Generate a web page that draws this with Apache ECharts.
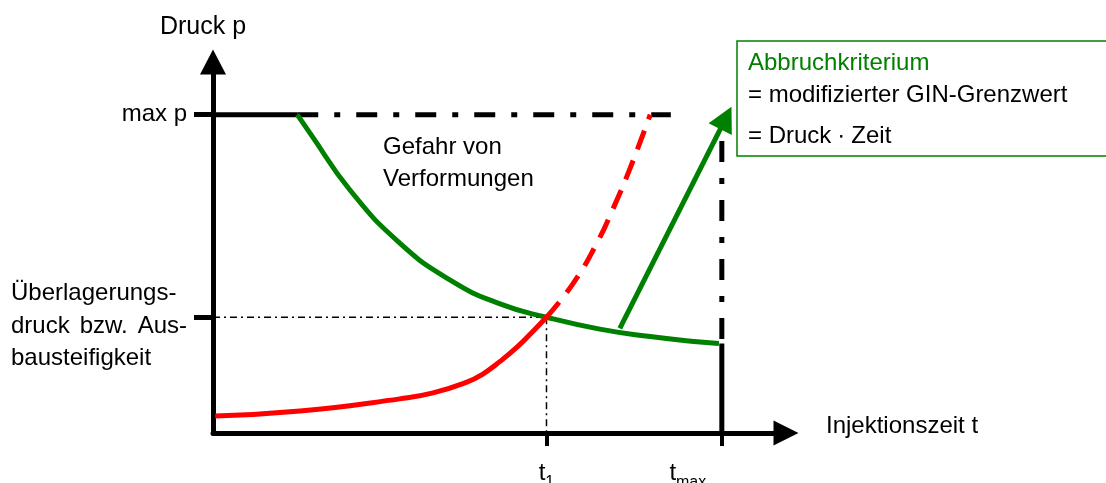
<!DOCTYPE html>
<html>
<head>
<meta charset="utf-8">
<script src="https://cdn.jsdelivr.net/npm/echarts@6/dist/echarts.min.js"></script>
<style>
  html, body { margin: 0; padding: 0; background: #fff; }
  #chart { width: 1106px; height: 483px; }
</style>
</head>
<body>
<div id="chart"></div>
<script>
// Achsen: beide 0..100 (schematisch)
const MAX_P = 85.8;      // max p
const UEB_P = 31.2;      // Überlagerungsdruck
const T1 = 58.2;
const TMAX = 88.8;
const MAXP_LINE_END = 79.9;   // Ende der Strich-Punkt-Linie bei max p
const TMAX_LINE_TOP = 78.7;   // oberes Ende der Linie bei t_max

// Grenzdruck-Kurve (grün)
const greenX = [14.7, 16.9, 23.9, 32.6, 41.4, 50.1, 58.2, 67.5, 76.3, 85.0, 88.3];
const greenY = [85.8, 80.9, 65.5, 51.2, 41.2, 34.8, 31.2, 28.0, 26.0, 24.5, 24.1];

// Injektionsdruck (rot), gemessen bis t1
const redX = [0.4, 15.2, 32.6, 38.4, 44.3, 47.1, 50.1, 53.1, 55.9, 58.2];
const redY = [4.6, 5.9, 9.2, 10.8, 13.7, 15.9, 19.3, 23.2, 27.5, 31.2];

// weiterer Verlauf (rot gestrichelt)
const redDashX = [58.2, 62.8, 67.0, 69.8, 72.8, 76.3];
const redDashY = [31.2, 40.2, 51.2, 60.4, 71.4, 85.8];

// Pfeil Abbruchkriterium
const arrowFrom = [71.0, 28.2];
const arrowTo = [89.5, 84.9];

const zip = (xs, ys) => xs.map((x, i) => [x, ys[i]]);

const FONT = 'Liberation Sans, Arial, sans-serif';
const GREEN = '#008000';
const RED = '#ff0000';
const DASH_DOT = [21, 16, 6, 16];
const THIN_DASH_DOT = [7, 4, 2, 4];

const chart = echarts.init(document.getElementById('chart'));

const straight = (data, width, type, z) => ({
  type: 'line',
  data: data,
  symbol: 'none',
  silent: true,
  z: z || 2,
  lineStyle: { color: '#000', width: width, type: type }
});

const option = {
  animation: false,
  textStyle: { fontFamily: FONT, color: '#000' },
  grid: { left: 213, right: 320, top: 62, bottom: 50, outerBoundsMode: 'none' },
  xAxis: {
    type: 'value',
    min: 0,
    max: 100,
    // leere zweite Zeile hebt den Namen etwas über die Achse
    name: '{n|Injektionszeit t}\n{e| }',
    nameLocation: 'end',
    nameGap: 40,
    nameMoveOverlap: false,
    nameTextStyle: {
      color: '#000',
      verticalAlign: 'middle',
      rich: {
        n: { fontSize: 24, lineHeight: 24 },
        e: { fontSize: 10, lineHeight: 13 }
      }
    },
    axisLine: {
      show: true,
      lineStyle: { color: '#000', width: 5 },
      symbol: ['none', 'triangle'],
      symbolSize: [25, 25]
    },
    axisTick: {
      show: true,
      customValues: [T1, TMAX],
      length: 13,
      lineStyle: { color: '#000', width: 4 }
    },
    axisLabel: {
      customValues: [T1, TMAX],
      margin: 28,
      color: '#000',
      formatter: v => v === T1 ? '{t|t}{s|1}' : '{t|t}{s|max}{g| }',
      rich: {
        t: { fontSize: 24, verticalAlign: 'top', lineHeight: 30 },
        s: { fontSize: 16, verticalAlign: 'bottom', lineHeight: 30 },
        g: { width: 68, fontSize: 16 }
      }
    },
    splitLine: { show: false }
  },
  yAxis: {
    type: 'value',
    min: 0,
    max: 100,
    name: 'Druck p',
    nameLocation: 'end',
    nameGap: 22,
    nameMoveOverlap: false,
    nameTextStyle: { fontSize: 25, color: '#000', padding: [0, 20, 0, 0] },
    axisLine: {
      show: true,
      lineStyle: { color: '#000', width: 5 },
      symbol: ['none', 'triangle'],
      symbolSize: [26, 25]
    },
    axisTick: {
      show: true,
      customValues: [UEB_P, MAX_P],
      length: 19,
      lineStyle: { color: '#000', width: 5 }
    },
    axisLabel: {
      customValues: [UEB_P, MAX_P],
      margin: 26,
      color: '#000',
      fontSize: 24,
      formatter: v => v === MAX_P
        ? 'max p'
        : '{s| }\n{a|Überlagerungs-}\n{l|druck}{m|bzw.}{r|Aus-}\n{a|bausteifigkeit}',
      rich: {
        s: { fontSize: 10, lineHeight: 18 },
        a: { fontSize: 24, lineHeight: 32.5, width: 176, align: 'left' },
        l: { fontSize: 24, lineHeight: 32.5, align: 'left' },
        m: { fontSize: 24, lineHeight: 32.5, align: 'center' },
        r: { fontSize: 24, lineHeight: 32.5, align: 'right' }
      }
    },
    splitLine: { show: false }
  },
  graphic: [
    {
      type: 'text',
      x: 383,
      y: 132,
      style: {
        text: 'Gefahr von\nVerformungen',
        font: '24px ' + FONT,
        lineHeight: 31.5,
        fill: '#000',
        align: 'left',
        verticalAlign: 'top'
      }
    },
    {
      type: 'rect',
      shape: { x: 737, y: 41, width: 420, height: 115 },
      style: { fill: '#fff', stroke: GREEN, lineWidth: 1.5 },
      z: 10
    },
    {
      type: 'text', x: 748, y: 63, z: 11,
      style: { text: 'Abbruchkriterium', font: '24px ' + FONT, fill: GREEN, verticalAlign: 'middle' }
    },
    {
      type: 'text', x: 748, y: 95.5, z: 11,
      style: { text: '= modifizierter GIN-Grenzwert', font: '24px ' + FONT, fill: '#000', verticalAlign: 'middle' }
    },
    {
      type: 'text', x: 748, y: 136.5, z: 11,
      style: { text: '= Druck \u2219 Zeit', font: '24px ' + FONT, fill: '#000', verticalAlign: 'middle' }
    }
  ],
  series: [
    // max p
    straight([[0, MAX_P], [greenX[0], MAX_P]], 5, 'solid'),
    straight([[greenX[0], MAX_P], [MAXP_LINE_END, MAX_P]], 5, DASH_DOT),
    // Überlagerungsdruck / t1
    straight([[0, UEB_P], [T1, UEB_P]], 1.5, THIN_DASH_DOT),
    straight([[T1, UEB_P], [T1, 0]], 1.5, THIN_DASH_DOT),
    // t_max
    straight([[TMAX, TMAX_LINE_TOP], [TMAX, greenY[greenY.length - 1]]], 5, DASH_DOT),
    straight([[TMAX, greenY[greenY.length - 1]], [TMAX, 0]], 5, 'solid'),
    {
      name: 'Grenzdruck',
      type: 'line',
      data: zip(greenX, greenY),
      smooth: 0.5,
      symbol: 'none',
      silent: true,
      z: 3,
      lineStyle: { color: GREEN, width: 5 },
      markLine: {
        silent: true,
        symbol: ['none', 'triangle'],
        symbolSize: [26, 25],
        label: { show: false },
        lineStyle: { color: GREEN, width: 5, type: 'solid' },
        emphasis: { disabled: true },
        data: [[{ coord: arrowFrom }, { coord: arrowTo }]]
      }
    },
    {
      name: 'Injektionsdruck',
      type: 'line',
      data: zip(redX, redY),
      smooth: 0.5,
      symbol: 'none',
      silent: true,
      z: 4,
      lineStyle: { color: RED, width: 5 }
    },
    {
      name: 'Injektionsdruck (Prognose)',
      type: 'line',
      data: zip(redDashX, redDashY),
      smooth: 0.5,
      symbol: 'none',
      silent: true,
      z: 4,
      lineStyle: { color: RED, width: 5, type: [20, 12] }
    }
  ]
};

chart.setOption(option);
</script>
</body>
</html>
